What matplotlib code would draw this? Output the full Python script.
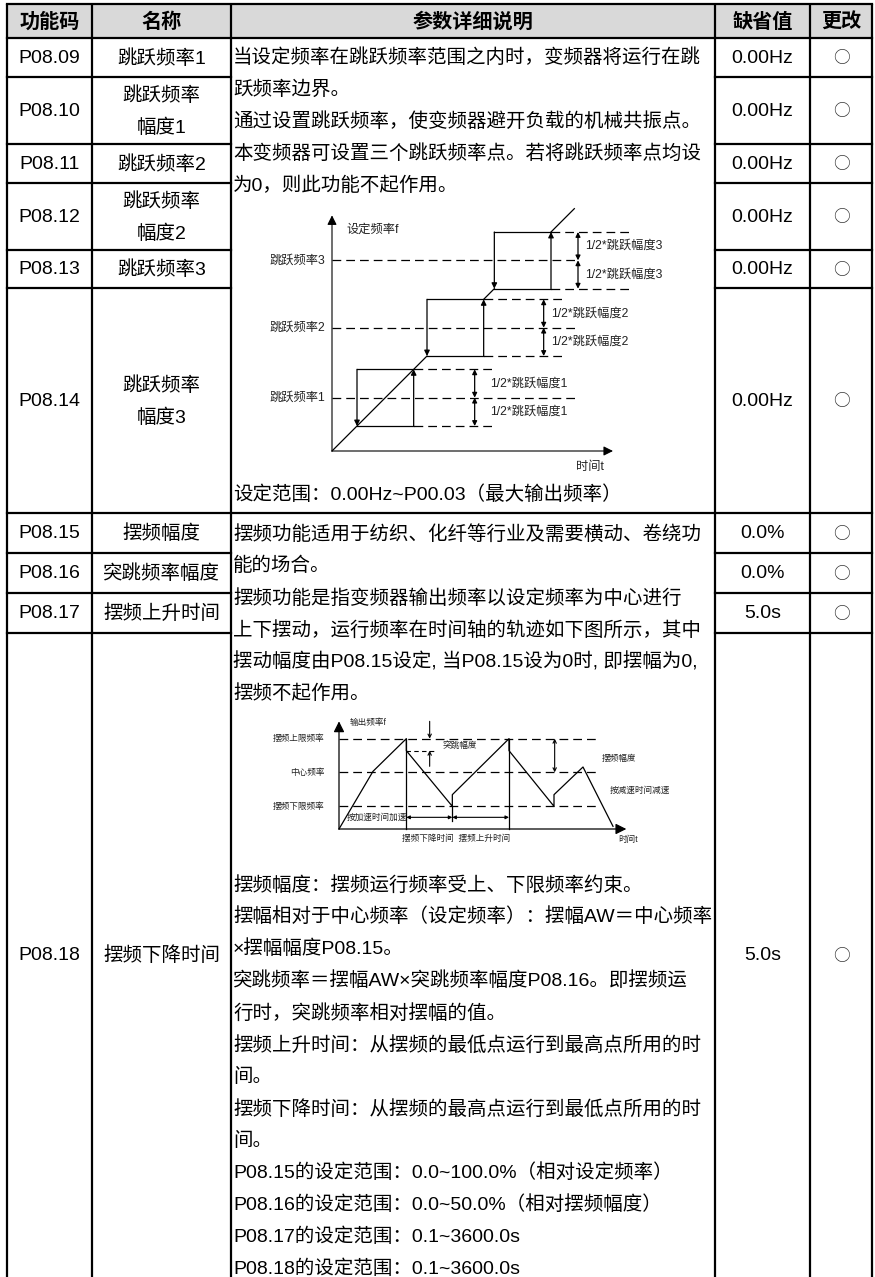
import matplotlib.pyplot as plt

plt.rcParams['font.family'] = ['Liberation Sans', 'Noto Sans CJK SC']

W, H = 875, 1277

# table content
headers = ['功能码', '名称', '参数详细说明', '缺省值', '更改']
codes = ['P08.09', 'P08.10', 'P08.11', 'P08.12', 'P08.13', 'P08.14',
         'P08.15', 'P08.16', 'P08.17', 'P08.18']
names = ['跳跃频率1', '跳跃频率\n幅度1', '跳跃频率2', '跳跃频率\n幅度2', '跳跃频率3',
         '跳跃频率\n幅度3', '摆频幅度', '突跳频率幅度', '摆频上升时间', '摆频下降时间']
defaults = ['0.00Hz'] * 6 + ['0.0%', '0.0%', '5.0s', '5.0s']
modify = ['○'] * 10

desc_a = ['当设定频率在跳跃频率范围之内时，变频器将运行在跳',
          '跃频率边界。',
          '通过设置跳跃频率，使变频器避开负载的机械共振点。',
          '本变频器可设置三个跳跃频率点。若将跳跃频率点均设',
          '为0，则此功能不起作用。']
range_a = '设定范围：0.00Hz~P00.03（最大输出频率）'
desc_b_top = ['摆频功能适用于纺织、化纤等行业及需要横动、卷绕功',
              '能的场合。',
              '摆频功能是指变频器输出频率以设定频率为中心进行',
              '上下摆动，运行频率在时间轴的轨迹如下图所示，其中',
              '摆动幅度由P08.15设定, 当P08.15设为0时, 即摆幅为0,',
              '摆频不起作用。']
desc_b_bottom = ['摆频幅度：摆频运行频率受上、下限频率约束。',
                 '摆幅相对于中心频率（设定频率）：摆幅AW＝中心频率',
                 '×摆幅幅度P08.15。',
                 '突跳频率＝摆幅AW×突跳频率幅度P08.16。即摆频运',
                 '行时，突跳频率相对摆幅的值。',
                 '摆频上升时间：从摆频的最低点运行到最高点所用的时',
                 '间。',
                 '摆频下降时间：从摆频的最高点运行到最低点所用的时',
                 '间。',
                 'P08.15的设定范围：0.0~100.0%（相对设定频率）',
                 'P08.16的设定范围：0.0~50.0%（相对摆频幅度）',
                 'P08.17的设定范围：0.1~3600.0s',
                 'P08.18的设定范围：0.1~3600.0s']

# jump frequency diagram
jump_freq = [16.0, 37.0, 57.2]
jump_half = 8.5
jump_labels = ['跳跃频率1', '跳跃频率2', '跳跃频率3']
band_labels = ['1/2*跳跃幅度1', '1/2*跳跃幅度2', '1/2*跳跃幅度3']
band_arrow_t = [42.8, 63.5, 73.8]
band_label_t = [47.5, 65.8, 75.8]

# wobble diagram
wob_levels = [27.1, 17.0, 6.8]
wob_level_labels = ['摆频上限频率', '中心频率', '摆频下限频率']
wob_t = [0, 10.2, 20.2, 20.2, 34.0, 34.0, 51.0, 51.0, 64.5, 64.5, 73.2, 82.2]
wob_f = [0, 17.3, 27.1, 23.5, 6.8, 10.3, 27.1, 23.5, 6.8, 10.3, 18.6, 0.8]
wob_jump = 23.5

# layout (pixels)
col_x = [7, 92, 231, 715, 810, 872]
row_y = [4, 38, 77, 144, 183, 250, 288, 513, 553, 593, 633, 1277]
lw = 1.6

fig = plt.figure(figsize=(W / 100, H / 100), dpi=100)
ax = fig.add_axes([0, 0, 1, 1])
ax.set_xlim(0, W)
ax.set_ylim(H, 0)
ax.axis('off')

# header
ax.fill_between([col_x[0], col_x[-1]], row_y[0], row_y[1], color='#d9d9d9', lw=0)
for i, h in enumerate(headers):
    ax.text((col_x[i] + col_x[i + 1]) / 2, (row_y[0] + row_y[1]) / 2 + 1, h,
            ha='center', va='center', fontsize=14.5, fontweight='bold')

# grid lines
for x in col_x:
    ax.plot([x, x], [row_y[0], H], color='k', lw=lw, solid_capstyle='butt')
for y in [row_y[0], row_y[1], row_y[7]]:
    ax.plot([col_x[0], col_x[-1]], [y, y], color='k', lw=lw)
for y in row_y[2:7] + row_y[8:11]:
    ax.plot([col_x[0], col_x[2]], [y, y], color='k', lw=lw)
    ax.plot([col_x[3], col_x[5]], [y, y], color='k', lw=lw)

# row cells
for i in range(len(codes)):
    yc = (row_y[i + 1] + row_y[i + 2]) / 2 + 1
    ax.text((col_x[0] + col_x[1]) / 2, yc, codes[i], ha='center', va='center', fontsize=14)
    parts = names[i].split('\n')
    for k, p in enumerate(parts):
        ax.text((col_x[1] + col_x[2]) / 2, yc + (k - (len(parts) - 1) / 2) * 32, p,
                ha='center', va='center', fontsize=14)
    ax.text((col_x[3] + col_x[4]) / 2, yc, defaults[i], ha='center', va='center', fontsize=14)
    ax.text((col_x[4] + col_x[5]) / 2, yc, modify[i], ha='center', va='center',
            fontsize=12, color='#333333', family=['Noto Sans CJK SC'])

# description text
tx = col_x[2] + 2
for k, s in enumerate(desc_a):
    ax.text(tx, 58 + 32 * k, s, va='center', fontsize=14)
ax.text(tx, 495, range_a, va='center', fontsize=14)
for k, s in enumerate(desc_b_top):
    ax.text(tx, 534 + 32 * k, s, va='center', fontsize=14)
for k, s in enumerate(desc_b_bottom):
    ax.text(tx, 885 + 32 * k, s, va='center', fontsize=14)


def diagram_axes(origin, scale, box):
    x0, y0, x1, y1 = box
    d = fig.add_axes([x0 / W, 1 - y1 / H, (x1 - x0) / W, (y1 - y0) / H])
    ox, oy = origin
    d.set_xlim((x0 - ox) / scale, (x1 - ox) / scale)
    d.set_ylim((oy - y1) / scale, (oy - y0) / scale)
    d.axis('off')
    return d


def arrow(a, p0, p1, style='-|>', ms=8, lw=0.8):
    a.annotate('', xy=p1, xytext=p0,
               arrowprops=dict(arrowstyle=style, color='k', lw=lw, mutation_scale=ms,
                               shrinkA=0, shrinkB=0))


dash = (0, (7, 4))
ink = '#222222'

# ---- jump frequency diagram ----
d1 = diagram_axes((332, 451), 10 / 3, (240, 200, 665, 480))
arrow(d1, (0, 0), (0, 70.7), ms=14)
arrow(d1, (0, 0), (84.3, 0), ms=14)
d1.text(4.3, 66.5, '设定频率f', fontsize=8.8, va='center', color=ink)
d1.text(73.3, -4.9, '时间t', fontsize=8.8, va='center', color=ink)
h = jump_half
d1.plot([0, jump_freq[1] - h], [0, jump_freq[1] - h], color='k', lw=0.9)
d1.plot([jump_freq[1] + h, jump_freq[2] - h], [jump_freq[1] + h, jump_freq[2] - h], color='k', lw=0.9)
d1.plot([jump_freq[2] + h, jump_freq[2] + h + 7], [jump_freq[2] + h, jump_freq[2] + h + 7],
        color='k', lw=0.9)
for f, lab, at, lt, bl in zip(jump_freq, jump_labels, band_arrow_t, band_label_t, band_labels):
    lo, hi = f - h, f + h
    d1.plot([0, 73.3], [f, f], color='k', lw=0.9, ls=dash)
    d1.text(-1.9, f, lab, ha='right', va='center', fontsize=8.8, color=ink)
    d1.plot([lo, hi], [hi, hi], color='k', lw=0.9)
    d1.plot([lo, hi], [lo, lo], color='k', lw=0.9)
    arrow(d1, (lo, hi), (lo, lo), lw=0.9)
    arrow(d1, (hi, lo), (hi, hi), lw=0.9)
    d1.plot([hi, hi + 24], [hi, hi], color='k', lw=0.9, ls=dash)
    d1.plot([hi, hi + 24], [lo, lo], color='k', lw=0.9, ls=dash)
    arrow(d1, (at, f), (at, hi), style='<|-|>', ms=7, lw=0.9)
    arrow(d1, (at, lo), (at, f), style='<|-|>', ms=7, lw=0.9)
    d1.text(lt, f + h / 2, bl, va='center', fontsize=8.8, color=ink)
    d1.text(lt, f - h / 2, bl, va='center', fontsize=8.8, color=ink)

# ---- wobble diagram ----
d2 = diagram_axes((339, 829), 10 / 3, (240, 705, 665, 870))
arrow(d2, (0, 0), (0, 32.3), ms=16, lw=0.9)
arrow(d2, (0, 0), (86.2, 0), ms=16, lw=0.9)
fs2 = 6.2
for lvl, lab in zip(wob_levels, wob_level_labels):
    d2.plot([0, 77.7], [lvl, lvl], color='k', lw=0.9, ls=dash)
    d2.text(-4.2, lvl, lab, ha='right', va='center', fontsize=fs2, color=ink)
d2.plot(wob_t, wob_f, color='k', lw=0.9)
d2.plot([wob_t[2], wob_t[2]], [0, wob_levels[0]], color='k', lw=0.9)
d2.plot([wob_t[6], wob_t[6]], [0, wob_levels[0]], color='k', lw=0.9)
d2.plot([wob_t[4], wob_t[4]], [2.3, wob_levels[2]], color='k', lw=0.9)
d2.plot([wob_t[2], 29.2], [wob_jump, wob_jump], color='k', lw=0.8, ls=(0, (4, 3)))
arrow(d2, (27.2, 32.3), (27.2, wob_levels[0]), style='->', ms=6)
arrow(d2, (27.2, 18.8), (27.2, wob_jump), style='->', ms=6)
arrow(d2, (64.7, wob_levels[1]), (64.7, wob_levels[0]), style='<->', ms=6)
arrow(d2, (wob_t[2], 3.5), (wob_t[4], 3.5), style='<|-|>', ms=5)
arrow(d2, (wob_t[4], 3.5), (wob_t[6], 3.5), style='<|-|>', ms=5)
d2.text(3.2, 32.0, '输出频率f', fontsize=fs2, va='center', color=ink)
d2.text(31.2, 25.0, '突跳幅度', fontsize=fs2, va='center', color=ink)
d2.text(78.7, 21.3, '摆频幅度', fontsize=fs2, va='center', color=ink)
d2.text(81.2, 11.6, '按减速时间减速', fontsize=fs2, va='center', color=ink)
d2.text(2.2, 3.5, '按加速时间加速', fontsize=fs2, va='center', color=ink)
d2.text(35.0, -2.7, '摆频下降时间  摆频上升时间', fontsize=fs2, ha='center', va='center', color=ink)
d2.text(83.7, -3.2, '时间t', fontsize=fs2, va='center', color=ink)

fig.savefig('out.png', dpi=100)
